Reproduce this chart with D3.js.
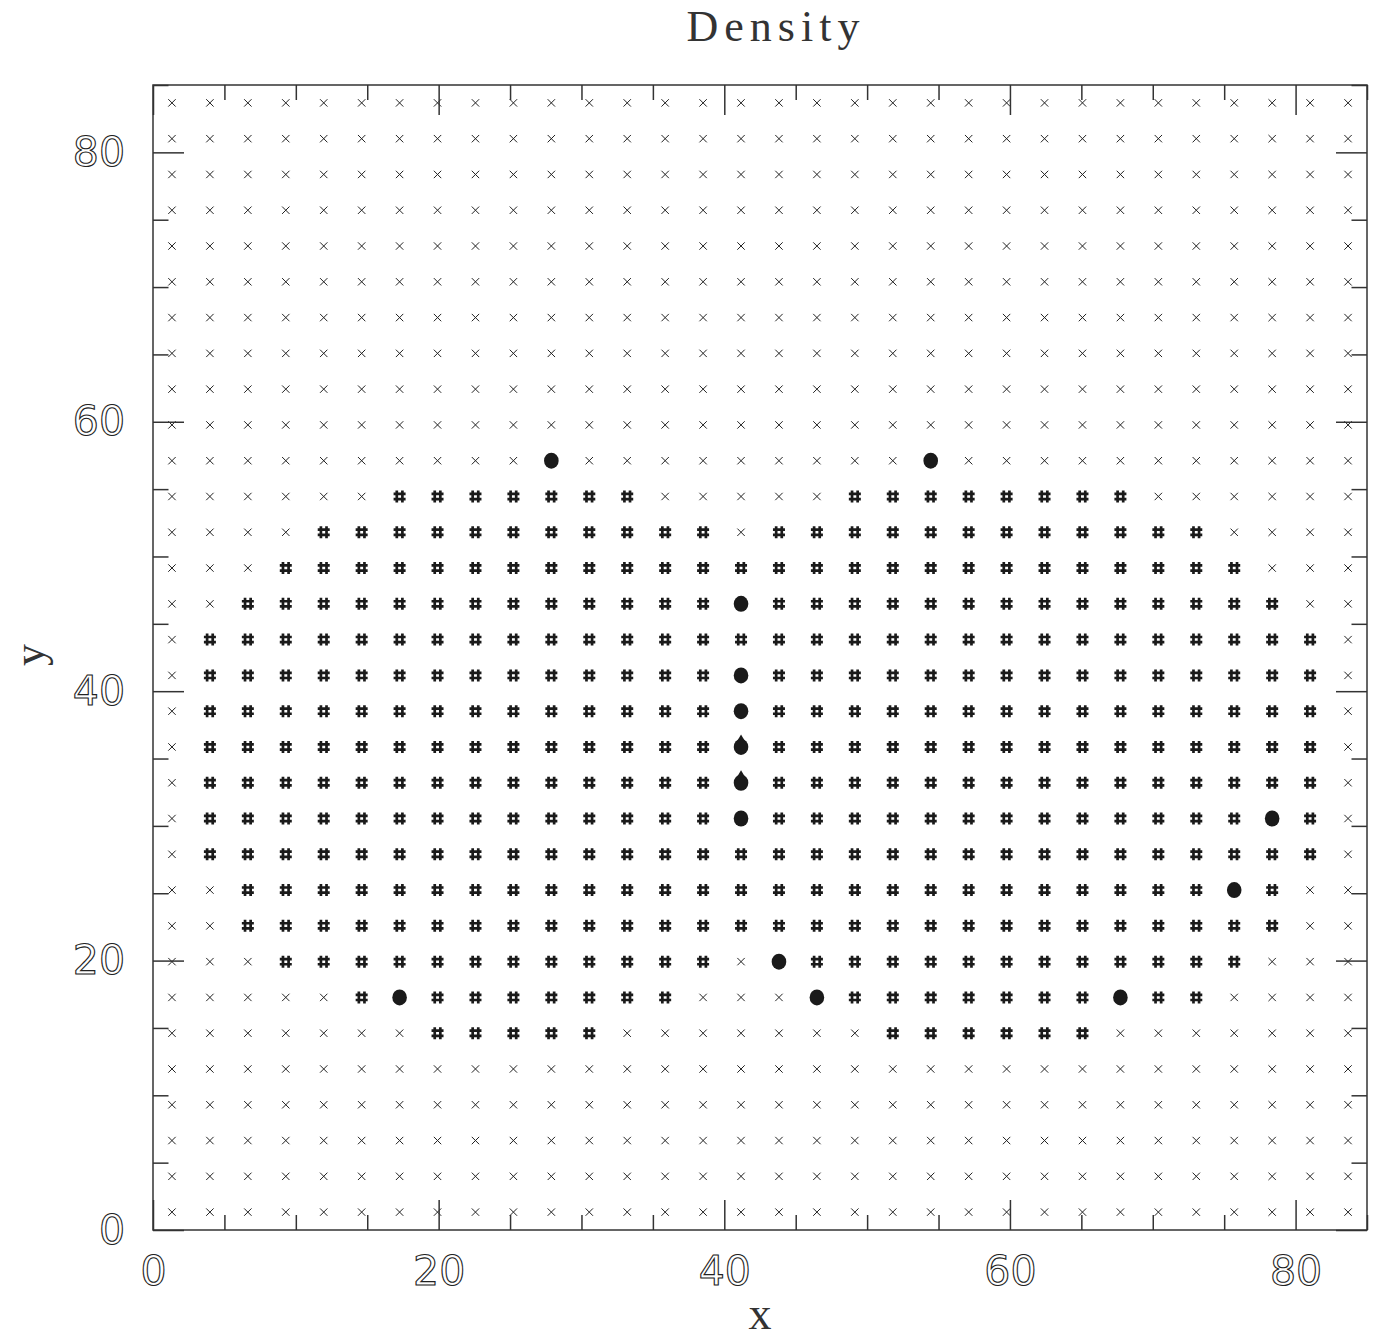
<!DOCTYPE html>
<html>
<head>
<meta charset="utf-8">
<script src="https://cdn.jsdelivr.net/npm/d3@7"></script>
<style>
body { margin: 0; background: #fff; }
.ticklab text { fill: none; stroke: #222; stroke-width: 1.1; font-family: "DejaVu Sans", sans-serif; font-size: 41px; }
.lab { fill: #333; font-family: "Liberation Serif", serif; }
</style>
</head>
<body>
<div id="chart"></div>
<script>
// density grid, 32 x 32 cells, top row first
// '.' low (cross), '#' medium (hash), 'o' high (dot), 'v' high (dot with a point)
var densityRows = [
	"................................",
	"................................",
	"................................",
	"................................",
	"................................",
	"................................",
	"................................",
	"................................",
	"................................",
	"................................",
	"..........o.........o...........",
	"......#######.....########......",
	"....###########.############....",
	"...##########################...",
	"..#############o##############..",
	".##############################.",
	".##############o###############.",
	".##############o###############.",
	".##############v###############.",
	".##############v###############.",
	".##############o#############o#.",
	".##############################.",
	"..##########################o#..",
	"..############################..",
	"...############.o############...",
	".....#o#######...o#######o##....",
	".......#####.......######.......",
	"................................",
	"................................",
	"................................",
	"................................",
	"................................"
];

var xDomain = [0, 85];
var yDomain = [0, 85];
var majorTicks = [0, 20, 40, 60, 80];
var minorTicks = [5, 10, 15, 25, 30, 35, 45, 50, 55, 65, 70, 75, 85];

var W = 1375, H = 1338;
var margin = { top: 85, right: 8, bottom: 108, left: 153 };
var width = W - margin.left - margin.right;
var height = H - margin.top - margin.bottom;

var svg = d3.select("#chart").append("svg")
	.attr("width", W)
	.attr("height", H);

var g = svg.append("g")
	.attr("transform", "translate(" + margin.left + "," + margin.top + ")");

var x = d3.scaleLinear().domain(xDomain).range([0, width]);
var y = d3.scaleLinear().domain(yDomain).range([height, 0]);

var nCols = densityRows[0].length;
var nRows = densityRows.length;
var xb = d3.scaleBand().domain(d3.range(nCols)).range([0, width]);
var yb = d3.scaleBand().domain(d3.range(nRows)).range([0, height]);

var cells = [];
densityRows.forEach(function (row, r) {
	row.split("").forEach(function (c, i) {
		cells.push({ row: r, col: i, kind: c });
	});
});

function cx(d) { return xb(d.col) + xb.bandwidth() / 2; }
function cy(d) { return yb(d.row) + yb.bandwidth() / 2; }

// crosses
var crossPath = "M-3.7,-3.7L3.7,3.7M-3.7,3.7L3.7,-3.7";
g.selectAll(".cross")
	.data(cells.filter(function (d) { return d.kind == "."; }))
	.enter().append("path")
	.attr("class", "cross")
	.attr("transform", function (d) { return "translate(" + cx(d) + "," + cy(d) + ")"; })
	.attr("d", crossPath)
	.attr("stroke", "#222")
	.attr("stroke-width", 1)
	.attr("fill", "none");

// hashes
var hashPath = "M-2.8,-6V6M2.8,-6V6M-6,-2.6H6M-6,2.6H6";
g.selectAll(".hash")
	.data(cells.filter(function (d) { return d.kind == "#"; }))
	.enter().append("path")
	.attr("class", "hash")
	.attr("transform", function (d) { return "translate(" + cx(d) + "," + cy(d) + ")"; })
	.attr("d", hashPath)
	.attr("stroke", "#1a1a1a")
	.attr("stroke-width", 2.7)
	.attr("fill", "none");

// dots
var dots = cells.filter(function (d) { return d.kind == "o" || d.kind == "v"; });
g.selectAll(".dot")
	.data(dots)
	.enter().append("ellipse")
	.attr("class", "dot")
	.attr("cx", cx)
	.attr("cy", cy)
	.attr("rx", 7.3)
	.attr("ry", 8)
	.attr("fill", "#1a1a1a");

g.selectAll(".peak")
	.data(dots.filter(function (d) { return d.kind == "v"; }))
	.enter().append("path")
	.attr("class", "peak")
	.attr("transform", function (d) { return "translate(" + cx(d) + "," + cy(d) + ")"; })
	.attr("d", "M-4.5,-5L0,-12.5L4.5,-5Z")
	.attr("fill", "#1a1a1a");

// axes, ticks pointing inwards
function axisPair(make, scale, size, labels, tr, cls) {
	var major = make(scale).tickValues(majorTicks).tickSize(-size).tickSizeOuter(0);
	if (labels) {
		major.tickPadding(labels);
	} else {
		major.tickFormat("");
	}
	var minor = make(scale).tickValues(minorTicks).tickSize(-size / 2).tickSizeOuter(0).tickFormat("");
	var ga = g.append("g").attr("class", cls).attr("transform", tr).call(major);
	var gm = g.append("g").attr("transform", tr).call(minor);
	[ga, gm].forEach(function (s) {
		s.select(".domain").remove();
		s.selectAll(".tick line").attr("stroke", "#333").attr("stroke-width", 1.5);
	});
	return ga;
}

axisPair(d3.axisBottom, x, 30, 26, "translate(0," + height + ")", "ticklab");
axisPair(d3.axisTop, x, 30, 0, "translate(0,0)", "");
axisPair(d3.axisLeft, y, 31, 28, "translate(0,0)", "ticklab");
axisPair(d3.axisRight, y, 31, 0, "translate(" + width + ",0)", "");

g.selectAll(".ticklab text").attr("font-family", null).attr("font-size", null).attr("fill", null);

// frame
g.append("rect")
	.attr("width", width)
	.attr("height", height)
	.attr("fill", "none")
	.attr("stroke", "#333")
	.attr("stroke-width", 1.5);

// labels
svg.append("text")
	.attr("class", "lab")
	.attr("x", 776)
	.attr("y", 41)
	.attr("text-anchor", "middle")
	.attr("font-size", 44)
	.attr("letter-spacing", 6)
	.text("Density");

svg.append("text")
	.attr("class", "lab")
	.attr("x", margin.left + width / 2)
	.attr("y", 1329)
	.attr("text-anchor", "middle")
	.attr("font-size", 46)
	.text("x");

svg.append("text")
	.attr("class", "lab")
	.attr("transform", "translate(44,655) rotate(-90)")
	.attr("text-anchor", "middle")
	.attr("font-size", 44)
	.text("y");
</script>
</body>
</html>
